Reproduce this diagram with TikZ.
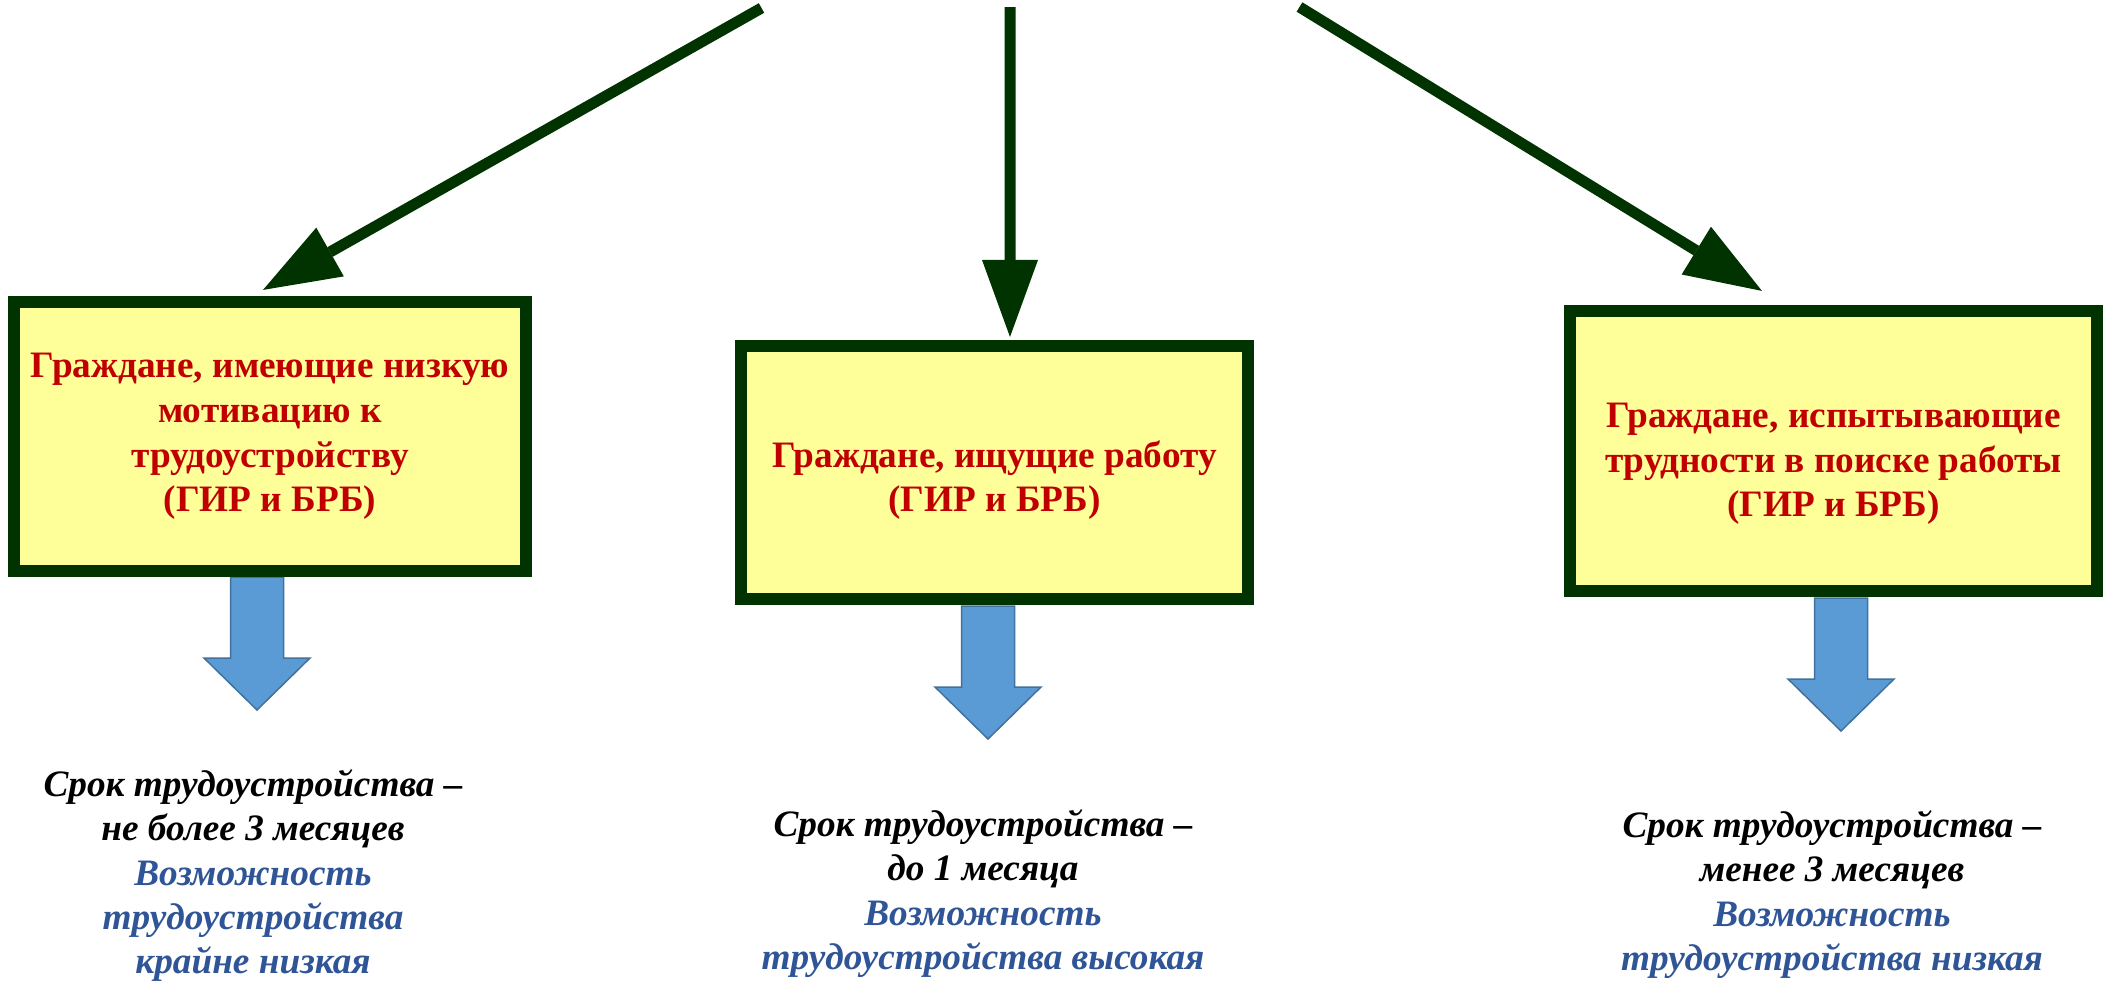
\documentclass[tikz,border=0pt]{standalone}
\usepackage{fontspec}
\setmainfont{Liberation Serif}
\usetikzlibrary{arrows.meta}
\definecolor{dkgreen}{HTML}{003300}
\definecolor{boxyellow}{HTML}{FFFF99}
\definecolor{boxred}{HTML}{C00000}
\definecolor{txtblue}{HTML}{2F5597}
\definecolor{arrblue}{HTML}{5B9BD5}
\definecolor{arredge}{HTML}{41719C}
\newcommand{\blockarrow}[2]{%
  \draw[barrow] ({#1-26.5},#2) -- ({#1+26.5},#2) -- ({#1+26.5},{#2+81}) -- ({#1+53},{#2+81}) -- (#1,{#2+133}) -- ({#1-53},{#2+81}) -- ({#1-26.5},{#2+81}) -- cycle;}
\begin{document}
\begin{tikzpicture}[x=0.01cm,y=-0.01cm,
  box/.style={draw=dkgreen, fill=boxyellow, line width=1.2mm, inner sep=0pt},
  boxtext/.style={text=boxred, font=\fontsize{10.6pt}{12.7pt}\selectfont\bfseries, align=center, inner sep=0pt},
  note/.style={font=\fontsize{10.6pt}{12.6pt}\selectfont\bfseries\itshape, align=center, inner sep=0pt, anchor=north},
  feed/.style={draw=dkgreen, line width=1.1mm, -{Triangle[length=7.7mm,width=5.6mm,line width=0pt]}},
  barrow/.style={fill=arrblue, draw=arredge, line width=0.15mm, line join=miter}
]
\useasboundingbox (0,0) rectangle (2105,981);
\fill[white] (0,0) rectangle (2105,981);

% blue block arrows
\blockarrow{257}{577}
\blockarrow{988}{606}
\blockarrow{1841}{598}

% boxes
\node[box, minimum width=5.12cm, minimum height=2.69cm] (b1) at (270,436.5) {};
\node[box, minimum width=5.07cm, minimum height=2.53cm] (b2) at (994.5,472.5) {};
\node[box, minimum width=5.27cm, minimum height=2.80cm] (b3) at (1833.5,451) {};

\node[boxtext] (t1) at (270,436.5) {Граждане, имеющие низкую\\мотивацию к\\трудоустройству\\(ГИР и БРБ)};
\node[boxtext] (t2) at (994.5,480) {Граждане, ищущие работу\\(ГИР и БРБ)};
\node[boxtext] (t3) at (1833.5,464) {Граждане, испытывающие\\трудности в поиске работы\\(ГИР и БРБ)};

% feeding arrows
\coordinate (s1) at (761.5,8);
\coordinate (s2) at (1010,7);
\coordinate (s3) at (1299.5,7);
\draw[feed] (s1) -- ([xshift=-0.07cm,yshift=0.06cm]b1.north);
\draw[feed] (s2) -- ([xshift=0.155cm,yshift=0.03cm]b2.north);
\draw[feed] (s3) -- ([xshift=-0.715cm,yshift=0.14cm]b3.north);

% notes
\node[note] (n1) at (253,769) {Срок трудоустройства –\\не более 3 месяцев\\\textcolor{txtblue}{Возможность}\\\textcolor{txtblue}{трудоустройства}\\\textcolor{txtblue}{крайне низкая}};
\node[note] (n2) at (983,809) {Срок трудоустройства –\\до 1 месяца\\\textcolor{txtblue}{Возможность}\\\textcolor{txtblue}{трудоустройства высокая}};
\node[note] (n3) at (1832,810) {Срок трудоустройства –\\менее 3 месяцев\\\textcolor{txtblue}{Возможность}\\\textcolor{txtblue}{трудоустройства низкая}};
\end{tikzpicture}
\end{document}
